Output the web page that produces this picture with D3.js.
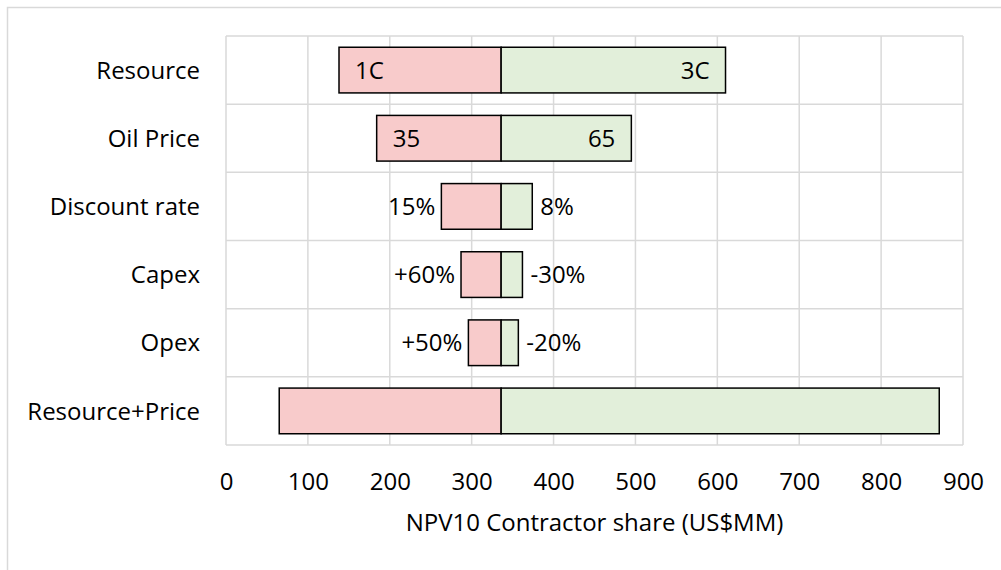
<!DOCTYPE html>
<html>
<head>
<meta charset="utf-8">
<script src="https://cdn.jsdelivr.net/npm/d3@7"></script>
<style>
  body { margin: 0; background: #fff; }
  svg text { font-family: "Open Sans", sans-serif; fill: #000; }
</style>
</head>
<body>
<div id="chart"></div>
<script>
// Tornado chart data
const categories = ["Resource", "Oil Price", "Discount rate", "Capex", "Opex", "Resource+Price"];
const baseValue = 336;
const lowValues = [138, 184, 263, 287, 296, 65];
const highValues = [610, 495, 374, 362, 357, 871];
const lowLabels = ["1C", "35", "15%", "+60%", "+50%", ""];
const highLabels = ["3C", "65", "8%", "-30%", "-20%", ""];
const labelInside = [true, true, false, false, false, false];
const xTicks = [0, 100, 200, 300, 400, 500, 600, 700, 800, 900];
const xTitle = "NPV10 Contractor share (US$MM)";

const width = 1001, height = 570;
const plot = { left: 226, right: 963, top: 36, bottom: 445 };
const fontSize = 24;

const svg = d3.select("#chart").append("svg")
    .attr("width", width)
    .attr("height", height);

// chart area border
svg.append("rect")
    .attr("x", 7.5).attr("y", 7.5)
    .attr("width", 1000).attr("height", 700)
    .attr("fill", "none")
    .attr("stroke", "#d9d9d9")
    .attr("stroke-width", 1.5);

const x = d3.scaleLinear().domain([0, 900]).range([plot.left, plot.right]);
const y = d3.scaleBand().domain(categories)
    .range([plot.top, plot.bottom])
    .paddingInner(0.33).paddingOuter(0.165);

// gridlines
const grid = svg.append("g").attr("stroke", "#d9d9d9").attr("stroke-width", 1.5);
grid.selectAll("line.v").data(xTicks).join("line")
    .attr("class", "v")
    .attr("x1", d => x(d)).attr("x2", d => x(d))
    .attr("y1", plot.top).attr("y2", plot.bottom);
grid.selectAll("line.h").data(d3.range(categories.length + 1)).join("line")
    .attr("class", "h")
    .attr("x1", plot.left).attr("x2", plot.right)
    .attr("y1", i => plot.top + i * y.step())
    .attr("y2", i => plot.top + i * y.step());

const rows = categories.map((c, i) => ({
    cat: c, low: lowValues[i], high: highValues[i],
    lowLabel: lowLabels[i], highLabel: highLabels[i], inside: labelInside[i]
}));

// low side bars
svg.append("g").selectAll("rect").data(rows).join("rect")
    .attr("x", d => x(d.low))
    .attr("y", d => y(d.cat))
    .attr("width", d => x(baseValue) - x(d.low))
    .attr("height", y.bandwidth())
    .attr("fill", "#f8cbcb")
    .attr("stroke", "#000")
    .attr("stroke-width", 1.5);

// high side bars
svg.append("g").selectAll("rect").data(rows).join("rect")
    .attr("x", x(baseValue))
    .attr("y", d => y(d.cat))
    .attr("width", d => x(d.high) - x(baseValue))
    .attr("height", y.bandwidth())
    .attr("fill", "#e2efda")
    .attr("stroke", "#000")
    .attr("stroke-width", 1.5);

// bar labels
const labels = svg.append("g").attr("font-size", fontSize);
labels.selectAll("text.low").data(rows).join("text")
    .attr("class", "low")
    .attr("x", d => d.inside ? x(d.low) + 16 : x(d.low) - 6)
    .attr("y", d => y(d.cat) + y.bandwidth() / 2)
    .attr("dy", "0.36em")
    .attr("text-anchor", d => d.inside ? "start" : "end")
    .text(d => d.lowLabel);
labels.selectAll("text.high").data(rows).join("text")
    .attr("class", "high")
    .attr("x", d => d.inside ? x(d.high) - 16 : x(d.high) + 8)
    .attr("y", d => y(d.cat) + y.bandwidth() / 2)
    .attr("dy", "0.36em")
    .attr("text-anchor", d => d.inside ? "end" : "start")
    .text(d => d.highLabel);

// category labels
svg.append("g").attr("font-size", fontSize).selectAll("text").data(categories).join("text")
    .attr("x", 200)
    .attr("y", d => y(d) + y.bandwidth() / 2)
    .attr("dy", "0.36em")
    .attr("text-anchor", "end")
    .text(d => d);

// x axis
const xAxis = svg.append("g")
    .attr("transform", `translate(0,${plot.bottom})`)
    .call(d3.axisBottom(x).tickValues(xTicks).tickSize(0).tickPadding(28));
xAxis.select(".domain").remove();
xAxis.selectAll("text")
    .attr("font-size", fontSize)
    .attr("font-family", "'Open Sans', sans-serif")
    .attr("fill", "#000");

svg.append("text")
    .attr("x", (plot.left + plot.right) / 2)
    .attr("y", 531)
    .attr("text-anchor", "middle")
    .attr("font-size", fontSize)
    .text(xTitle);
</script>
</body>
</html>
